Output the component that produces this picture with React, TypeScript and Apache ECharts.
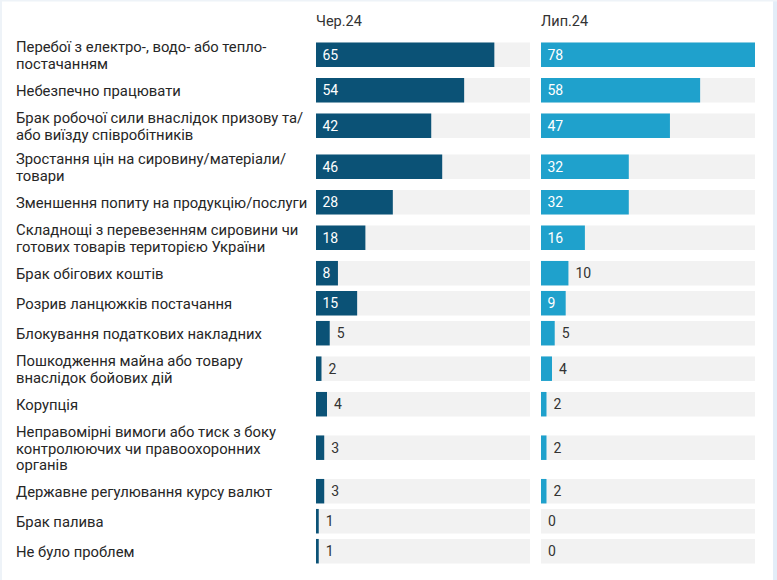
import React, { useEffect, useRef } from "react";
import * as echarts from "echarts";

const categories: string[] = [
  "Перебої з електро-, водо- або тепло-\nпостачанням",
  "Небезпечно працювати",
  "Брак робочої сили внаслідок призову та/\nабо виїзду співробітників",
  "Зростання цін на сировину/матеріали/\nтовари",
  "Зменшення попиту на продукцію/послуги",
  "Складнощі з перевезенням сировини чи\nготових товарів територією України",
  "Брак обігових коштів",
  "Розрив ланцюжків постачання",
  "Блокування податкових накладних",
  "Пошкодження майна або товару\nвнаслідок бойових дій",
  "Корупція",
  "Неправомірні вимоги або тиск з боку\nконтролюючих чи правоохоронних\nорганів",
  "Державне регулювання курсу валют",
  "Брак палива",
  "Не було проблем",
];
const periods: string[] = ["Чер.24", "Лип.24"];
const june: number[] = [65, 54, 42, 46, 28, 18, 8, 15, 5, 2, 4, 3, 3, 1, 1];
const july: number[] = [78, 58, 47, 32, 32, 16, 10, 9, 5, 4, 2, 2, 2, 0, 0];

const COLORS = ["#0b5276", "#1fa1cc"];
const TRACK = "#f2f2f2";
const FONT = "Roboto, 'Noto Sans', sans-serif";

export default function App() {
  const ref = useRef<HTMLDivElement>(null);
  useEffect(() => {
    if (!ref.current) return;
    const chart = echarts.init(ref.current, undefined, { renderer: "svg" });

    // row layout derived from number of label lines
    const rowH = categories.map((c) => Math.max(30, 16 * c.split("\n").length + 9));
    const centers: number[] = [];
    let acc = 0;
    rowH.forEach((h) => {
      centers.push(acc + h / 2);
      acc += h;
    });
    const total = acc;
    const maxV = Math.max(...june, ...july);
    const barH = 24.5;

    const makeRender = (colorIdx: number, withLabels: boolean) => (params: any, api: any) => {
      const v = api.value(0);
      const y = api.value(1);
      const idx = api.value(2);
      const start = api.coord([0, y]);
      const end = api.coord([v, y]);
      const full = api.coord([maxV, y]);
      const bw = end[0] - start[0];
      const txt = String(v);
      const tw = txt.length * 7.9;
      const inside = tw + 12 <= bw;
      const children: any[] = [
        {
          type: "rect",
          shape: { x: start[0], y: start[1] - barH / 2, width: full[0] - start[0], height: barH },
          style: { fill: TRACK },
        },
        {
          type: "rect",
          shape: { x: start[0], y: start[1] - barH / 2, width: bw, height: barH },
          style: { fill: COLORS[colorIdx] },
        },
        {
          type: "text",
          x: inside ? start[0] + 6.5 : end[0] + 7,
          y: start[1],
          style: {
            text: txt,
            fill: inside ? "#ffffff" : "#333333",
            fontSize: 14,
            fontFamily: FONT,
            verticalAlign: "middle",
            align: "left",
          },
        },
      ];
      if (withLabels) {
        children.push({
          type: "text",
          x: 16,
          y: start[1] + 1,
          style: {
            text: categories[idx],
            fill: "#262626",
            fontSize: 14.8,
            fontFamily: FONT,
            lineHeight: 16.8,
            verticalAlign: "middle",
            align: "left",
          },
        });
      }
      return { type: "group", children };
    };

    const gridTop = 34.2;
    const grids = [
      { left: 316, width: 214, top: gridTop, height: total },
      { left: 541, width: 214, top: gridTop, height: total },
    ];

    chart.setOption({
      animation: false,
      backgroundColor: "#ffffff",
      title: periods.map((p, i) => ({
        text: p,
        left: grids[i].left,
        top: 14,
        padding: 0,
        textStyle: { fontSize: 14.5, fontWeight: "normal", color: "#333333", fontFamily: FONT },
      })),
      grid: grids,
      xAxis: grids.map((_, i) => ({
        type: "value",
        gridIndex: i,
        min: 0,
        max: maxV,
        show: false,
      })),
      yAxis: grids.map((_, i) => ({
        type: "value",
        gridIndex: i,
        min: 0,
        max: total,
        inverse: true,
        show: false,
      })),
      series: [june, july].map((arr, i) => ({
        type: "custom",
        name: periods[i],
        xAxisIndex: i,
        yAxisIndex: i,
        clip: false,
        encode: { x: 0, y: 1 },
        data: arr.map((v, k) => [v, centers[k], k]),
        renderItem: makeRender(i, i === 0),
      })),
      graphic: [
        { type: "rect", left: 773, top: 0, shape: { width: 4, height: 580 }, style: { fill: "#e3edf8" } },
        { type: "rect", left: 0, top: 0, shape: { width: 2, height: 580 }, style: { fill: "#eef3f8" } },
        { type: "rect", left: 0, top: 0, shape: { width: 777, height: 1.5 }, style: { fill: "#eef3f8" } },
      ],
    });
    return () => chart.dispose();
  }, []);
  return (
    <div
      ref={ref}
      style={{ position: "fixed", left: 0, top: 0, width: 777, height: 580 }}
    />
  );
}
